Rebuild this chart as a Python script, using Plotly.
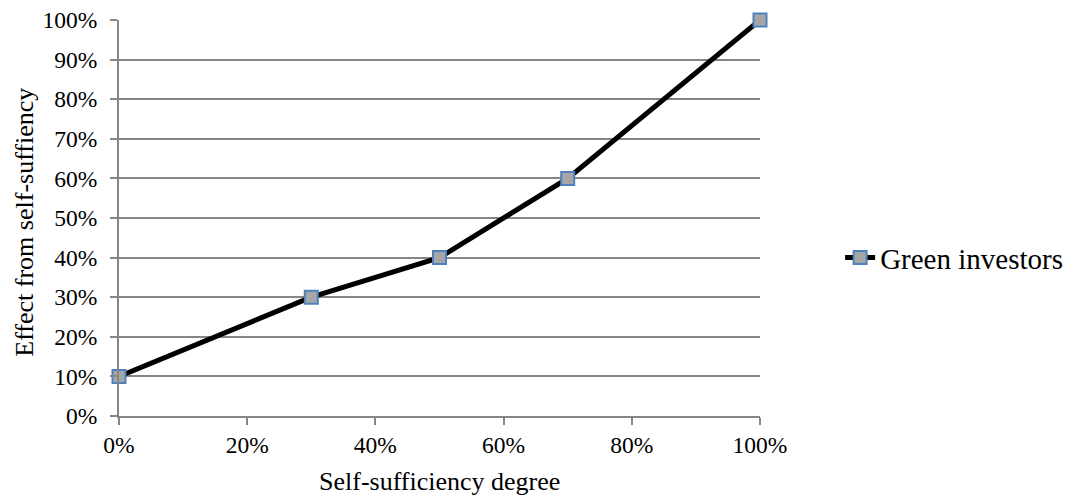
import plotly.graph_objects as go

# data
self_sufficiency = [0, 30, 50, 70, 100]
effect = [10, 30, 40, 60, 100]
series_name = "Green investors"
x_title = "Self-sufficiency degree"
y_title = "Effect from self-suffiency"

x_ticks = [0, 20, 40, 60, 80, 100]
y_ticks = list(range(0, 101, 10))

GRID = "#868686"
FONT = "Liberation Serif"
tick_font = dict(family=FONT, size=23.5, color="black")
title_font = dict(family=FONT, size=26, color="black")

fig = go.Figure()
fig.add_trace(go.Scatter(
    x=self_sufficiency,
    y=effect,
    name=series_name,
    mode="lines+markers",
    cliponaxis=False,
    line=dict(color="black", width=5),
    marker=dict(symbol="square", size=13, color="#a6a6a6",
                line=dict(color="#4f81bd", width=2)),
))

# axis titles as annotations so their size and place stay fixed
fig.add_annotation(text=x_title, xref="paper", yref="paper", x=0.5, y=-0.165,
                   xanchor="center", yanchor="middle", showarrow=False,
                   font=title_font)
fig.add_annotation(text=y_title, xref="paper", yref="paper", x=-0.147, y=0.49,
                   xanchor="center", yanchor="middle", textangle=-90,
                   showarrow=False, font=title_font)

# the page body adds an 8px offset, so margins are shifted to compensate
fig.update_layout(
    width=1074,
    height=496,
    margin=dict(l=111, r=322, t=12, b=88),
    paper_bgcolor="white",
    plot_bgcolor="white",
    font=dict(family=FONT, size=22, color="black"),
    showlegend=True,
    legend=dict(x=1.125, y=0.4, xanchor="left", yanchor="middle",
                font=dict(family=FONT, size=29, color="black"),
                bgcolor="rgba(0,0,0,0)"),
    xaxis=dict(
        range=[0, 100],
        tickmode="array",
        tickvals=x_ticks,
        ticktext=[f"{v}%" for v in x_ticks],
        tickfont=tick_font,
        ticklabeloverflow="allow",
        showgrid=False,
        zeroline=False,
        showline=True,
        linecolor=GRID,
        linewidth=2,
        ticks="outside",
        tickcolor=GRID,
        ticklen=7,
        tickwidth=2,
        automargin=False,
    ),
    yaxis=dict(
        range=[0, 100],
        tickmode="array",
        tickvals=y_ticks,
        ticktext=[f"{v}%" for v in y_ticks],
        tickfont=tick_font,
        ticklabeloverflow="allow",
        ticklabelstandoff=8,
        showgrid=True,
        gridcolor=GRID,
        gridwidth=1.5,
        zeroline=False,
        showline=True,
        linecolor=GRID,
        linewidth=2,
        ticks="outside",
        tickcolor=GRID,
        ticklen=7,
        tickwidth=2,
        automargin=False,
    ),
)

fig.write_html("out.html")
